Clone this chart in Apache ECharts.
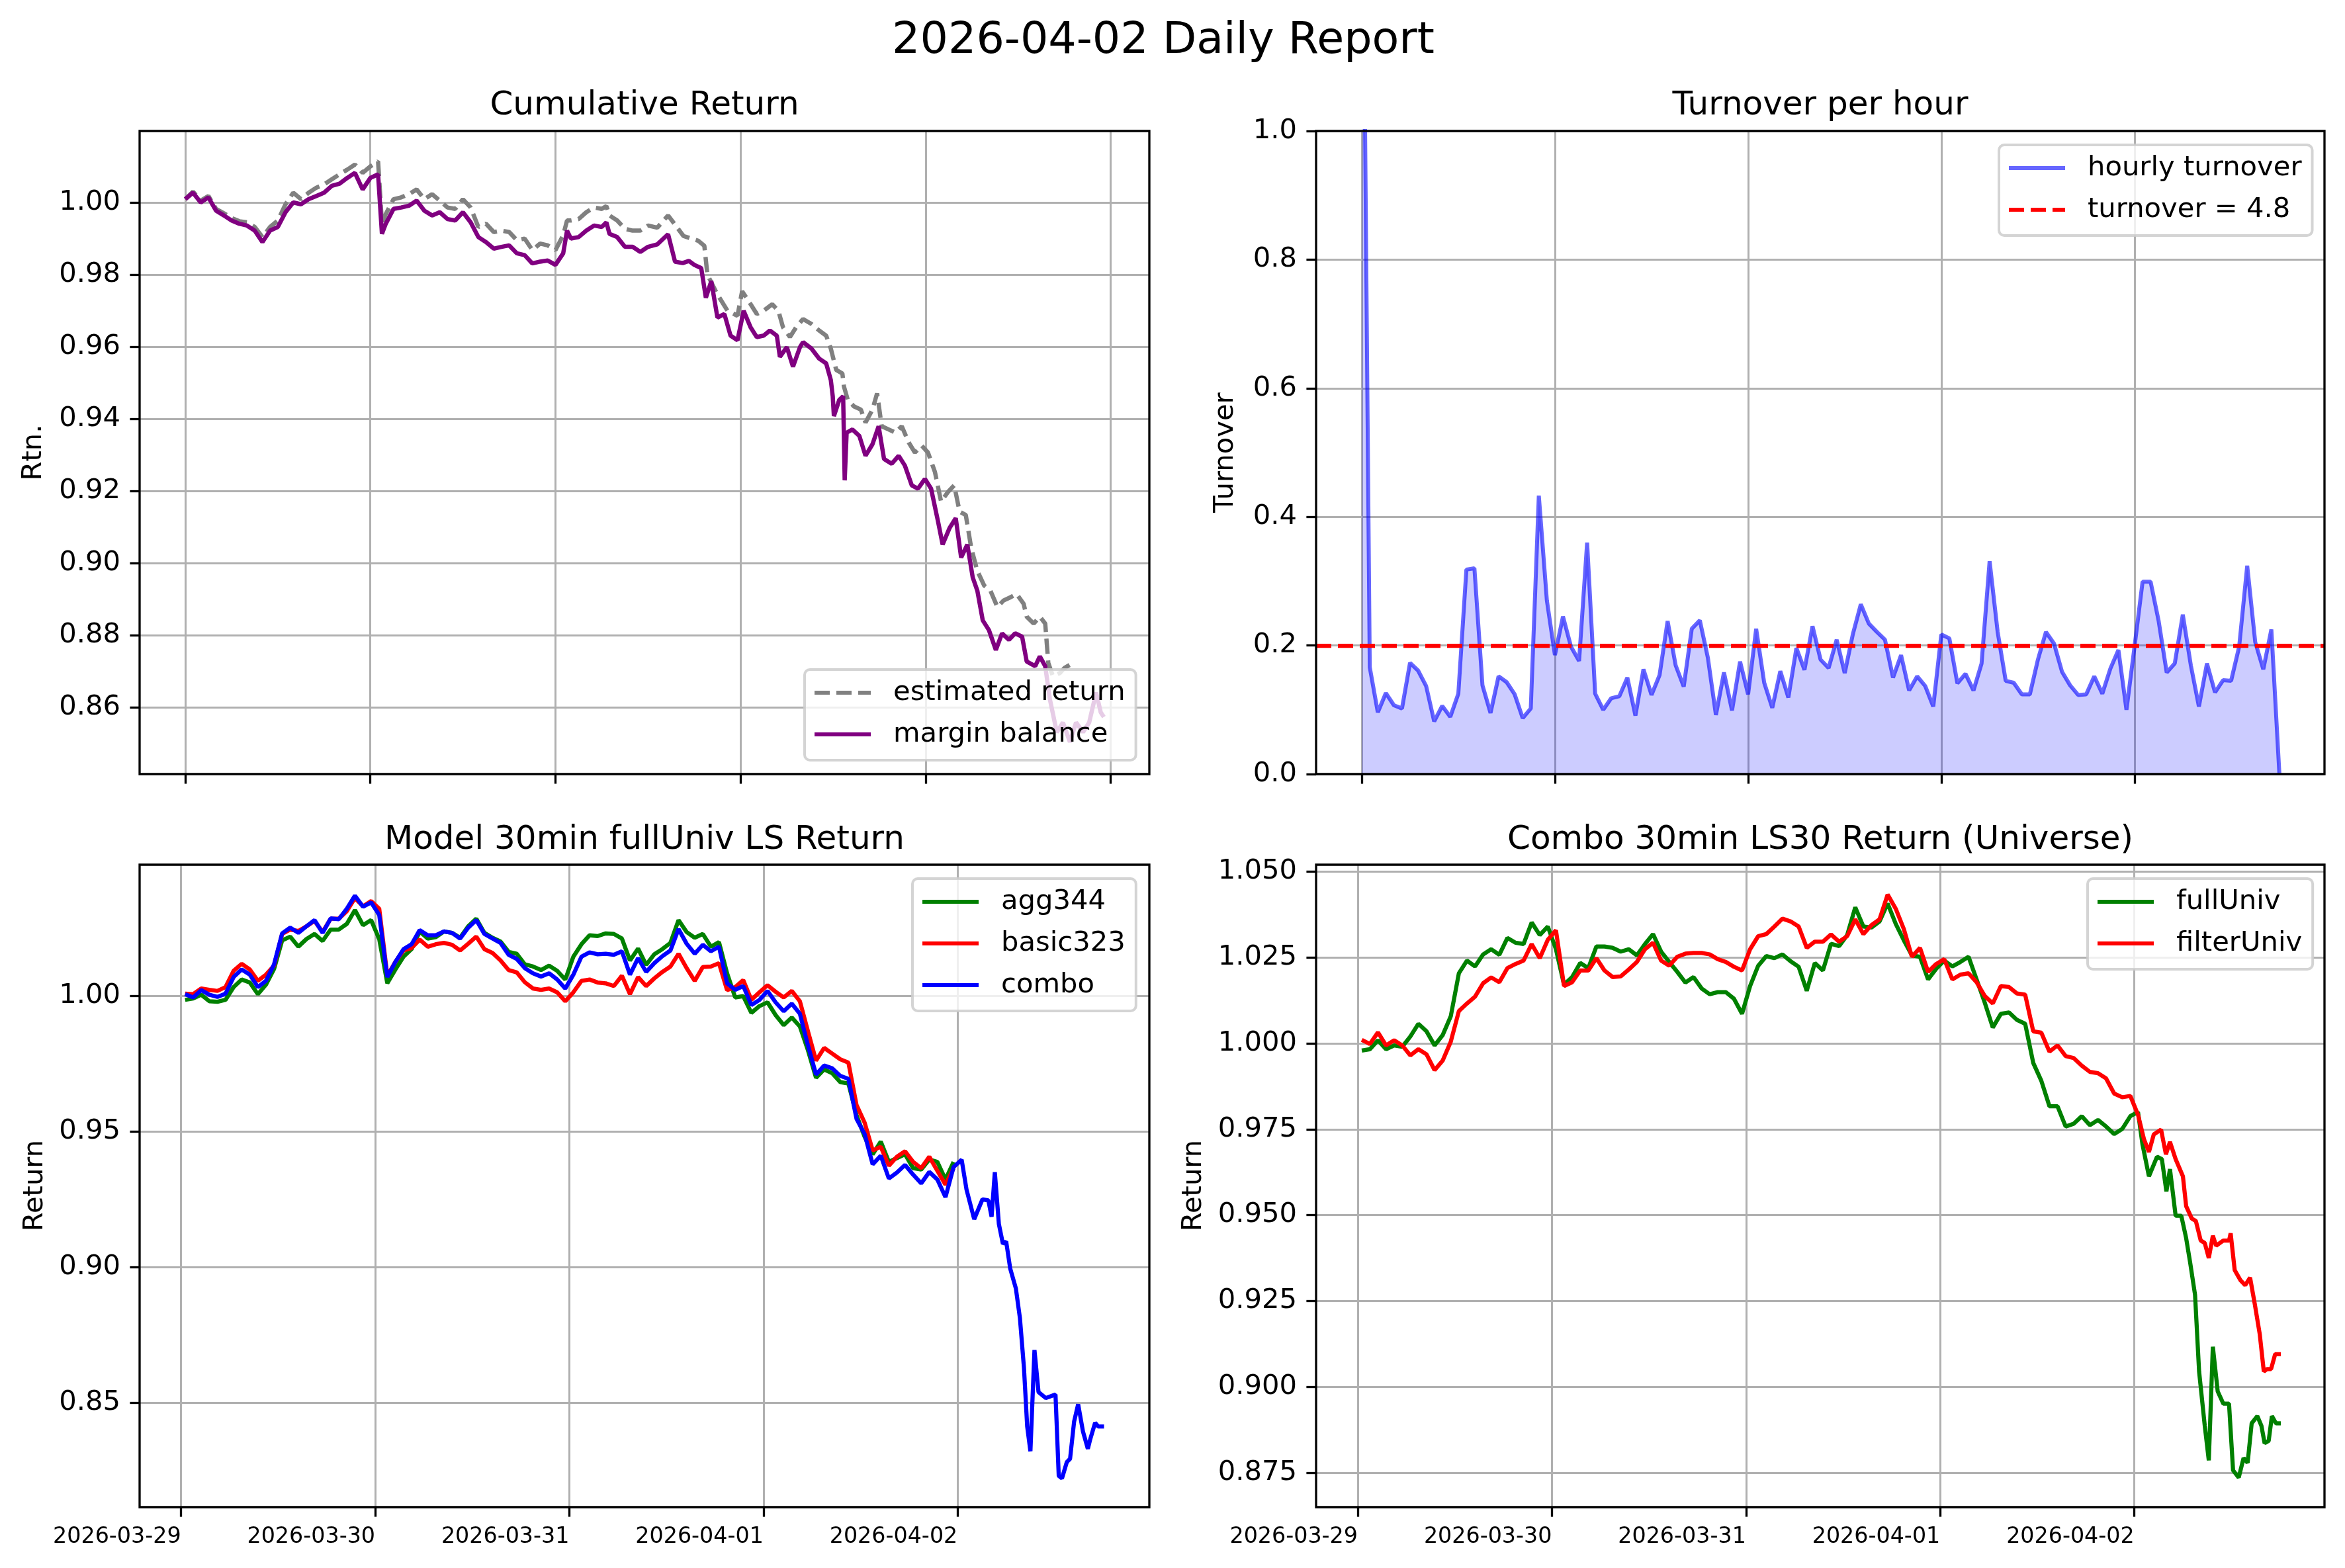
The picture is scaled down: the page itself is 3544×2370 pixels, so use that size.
<!DOCTYPE html>
<html>
<head>
<meta charset="utf-8">
<script src="https://cdn.jsdelivr.net/npm/echarts@6.0.0/dist/echarts.min.js"></script>
<style>
html, body { margin: 0; padding: 0; background: #fff; }
#chart { width: 3544px; height: 2370px; }
</style>
</head>
<body>
<div id="chart"></div>
<script>
// x values everywhere are hours since 2026-03-29 00:00
const DAY_LABELS = ['2026-03-29', '2026-03-30', '2026-03-31', '2026-04-01', '2026-04-02', '2026-04-03'];

// Cumulative Return  [hour, value]
const estimatedReturn = [
    [0,1.0009],[1,1.0030],[2,1.0005],[3,1.0018],[4,0.9982],[5,0.9970],[6,0.9957],[7,0.9948],[8,0.9945],[9,0.9932],
    [10,0.9904],[11,0.9932],[12,0.9950],[13,0.9995],[14,1.0027],[15,1.0009],[16,1.0027],[17,1.0041],[18,1.0050],[19,1.0064],
    [20,1.0078],[21,1.0091],[22,1.0105],[23,1.0082],[24,1.0100],[25,1.0114],[25.5,0.9940],[26,0.9968],[27,1.0009],[28,1.0014],
    [29,1.0023],[30,1.0036],[31,1.0009],[32,1.0023],[33,1.0005],[34,0.9986],[35,0.9982],[36,1.0009],[37,0.9986],[38,0.9932],
    [39,0.9941],[40,0.9918],[41,0.9922],[42,0.9918],[43,0.9895],[44,0.9900],[45,0.9868],[46,0.9886],[47,0.9881],[48,0.9868],
    [49,0.9909],[49.5,0.9950],[50,0.9950],[51,0.9954],[52,0.9973],[53,0.9986],[54,0.9982],[54.6,0.9990],[55,0.9964],[56,0.9950],
    [57,0.9927],[58,0.9922],[59,0.9922],[60,0.9936],[61.2,0.9930],[62.6,0.9964],[64.6,0.9907],[66.5,0.9894],[67.3,0.9880],[67.7,0.9800],
    [69.0,0.9745],[70.3,0.9700],[71.6,0.9686],[72.2,0.9754],[73.3,0.9718],[74.1,0.9691],[75.0,0.9700],[76.1,0.9718],[76.9,0.9700],[77.5,0.9654],
    [78.4,0.9627],[79.2,0.9654],[80.1,0.9677],[81.2,0.9663],[82.2,0.9645],[83.1,0.9631],[83.7,0.9595],[84.4,0.9536],[85.2,0.9526],[85.4,0.9490],
    [85.9,0.9453],[86.7,0.9435],[87.6,0.9426],[88.2,0.9390],[89.1,0.9426],[89.7,0.9471],[90.3,0.9380],[91.2,0.9371],[92.1,0.9362],[92.9,0.9380],
    [93.8,0.9335],[94.6,0.9307],[95.5,0.9326],[96.3,0.9307],[97.2,0.9253],[98.0,0.9171],[98.9,0.9198],[99.7,0.9216],[100.4,0.9143],[101.2,0.9134],
    [101.9,0.9043],[102.7,0.8979],[103.6,0.8938],[104.4,0.8924],[105.3,0.8879],[106.1,0.8897],[107.0,0.8906],[107.8,0.8915],[108.7,0.8888],[109.1,0.8852],
    [110.0,0.8833],[110.8,0.8852],[111.5,0.8833],[111.9,0.8724],[112.5,0.8687],[113.4,0.8696],[114.0,0.8710],[114.8,0.8720]
];
const marginBalance = [
    [0,1.0009],[1,1.0027],[2,1.0000],[3,1.0014],[4,0.9977],[5,0.9964],[6,0.9950],[7,0.9941],[8,0.9936],[9,0.9922],
    [10,0.9890],[11,0.9922],[12,0.9932],[13,0.9973],[14,1.0000],[15,0.9995],[16,1.0009],[17,1.0018],[18,1.0027],[19,1.0046],
    [20,1.0052],[21,1.0068],[22,1.0082],[23,1.0036],[24,1.0068],[25,1.0078],[25.5,0.9913],[26,0.9941],[27,0.9982],[28,0.9986],
    [29,0.9991],[30,1.0005],[31,0.9977],[32,0.9964],[33,0.9973],[34,0.9954],[35,0.9950],[36,0.9973],[37,0.9945],[38,0.9904],
    [39,0.9890],[40,0.9872],[41,0.9877],[42,0.9881],[43,0.9859],[44,0.9854],[45,0.9831],[46,0.9836],[47,0.9839],[48,0.9827],
    [49,0.9859],[49.5,0.9922],[50,0.9900],[51,0.9904],[52,0.9922],[53,0.9936],[54,0.9932],[54.6,0.9945],[55,0.9913],[56,0.9904],
    [57,0.9877],[58,0.9877],[59,0.9863],[60,0.9877],[61.2,0.9884],[62.6,0.9912],[63.5,0.9836],[64.5,0.9832],[65.3,0.9838],[66.0,0.9827],
    [66.9,0.9818],[67.5,0.9736],[68.2,0.9782],[69.0,0.9681],[69.9,0.9691],[70.7,0.9631],[71.6,0.9618],[72.4,0.9700],[73.3,0.9654],[74.1,0.9627],
    [75.0,0.9631],[75.8,0.9645],[76.7,0.9631],[77.1,0.9572],[78.0,0.9599],[78.8,0.9545],[79.7,0.9599],[80.1,0.9613],[81.2,0.9595],[82.2,0.9567],
    [83.1,0.9554],[83.7,0.9508],[83.95,0.9463],[84.1,0.9408],[84.8,0.9453],[85.3,0.9463],[85.5,0.9230],[85.75,0.9362],[86.5,0.9371],[87.4,0.9353],
    [88.2,0.9298],[89.1,0.9330],[89.9,0.9380],[90.6,0.9289],[91.6,0.9276],[92.5,0.9298],[93.3,0.9271],[94.2,0.9216],[95.0,0.9207],[95.9,0.9234],
    [96.7,0.9207],[97.6,0.9116],[98.2,0.9052],[99.1,0.9098],[99.9,0.9125],[100.6,0.9016],[101.4,0.9052],[102.1,0.8961],[102.7,0.8924],[103.4,0.8842],
    [104.2,0.8815],[105.1,0.8760],[105.9,0.8806],[106.8,0.8788],[107.6,0.8806],[108.5,0.8797],[109.1,0.8728],[110.2,0.8715],[110.8,0.8742],[111.5,0.8715],
    [112.1,0.8624],[113.0,0.8532],[113.8,0.8559],[114.7,0.8505],[115.5,0.8559],[116.4,0.8532],[117.2,0.8559],[118.1,0.8642],[118.7,0.8587],[119.1,0.8574]
];

// Turnover per hour, one value per hour from hour 0
const hourlyTurnover = [
    1.6, 0.166, 0.096, 0.126, 0.107, 0.102, 0.173, 0.161, 0.137, 0.082, 0.106,
    0.089, 0.125, 0.318, 0.320, 0.138, 0.095, 0.152, 0.143, 0.124, 0.087,
    0.102, 0.433, 0.270, 0.185, 0.245, 0.198, 0.176, 0.360, 0.125, 0.100,
    0.118, 0.121, 0.150, 0.091, 0.163, 0.123, 0.154, 0.238, 0.169, 0.136,
    0.226, 0.239, 0.181, 0.092, 0.158, 0.099, 0.175, 0.124, 0.226, 0.142,
    0.103, 0.160, 0.119, 0.196, 0.162, 0.230, 0.178, 0.165, 0.209, 0.157,
    0.217, 0.264, 0.234, 0.221, 0.209, 0.150, 0.185, 0.130, 0.152, 0.137,
    0.105, 0.217, 0.211, 0.141, 0.156, 0.130, 0.172, 0.331, 0.221, 0.145,
    0.142, 0.124, 0.124, 0.178, 0.221, 0.203, 0.159, 0.138, 0.123, 0.124,
    0.152, 0.125, 0.164, 0.193, 0.100, 0.198, 0.299, 0.299, 0.238, 0.158,
    0.172, 0.248, 0.169, 0.105, 0.172, 0.127, 0.146, 0.145, 0.198, 0.324,
    0.205, 0.163, 0.225, 0.0
];
const turnoverTarget = 0.2;

// Model 30min fullUniv LS Return, hourly from hour 0.5
const agg344 = [
    0.9985,0.9990,1.0004,0.9980,0.9978,0.9985,1.0032,1.0060,1.0049,1.0006,
    1.0041,1.0099,1.0204,1.0218,1.0181,1.0209,1.0228,1.0202,1.0244,1.0244,
    1.0265,1.0316,1.0260,1.0279,1.0209,1.0046,1.0097,1.0144,1.0172,1.0237,
    1.0211,1.0216,1.0237,1.0232,1.0214,1.0256,1.0284,1.0232,1.0214,1.0200,
    1.0162,1.0155,1.0116,1.0108,1.0095,1.0111,1.0092,1.0060,
    1.0144,1.0190,1.0223,1.0220,1.0230,1.0228,1.0211,1.0130,1.0174,1.0114,
    1.0153,1.0172,1.0195,1.0279,1.0235,1.0214,1.0228,1.0181,1.0198,1.0083,
    0.9994,0.9999,0.9937,0.9962,0.9976,0.9929,0.9892,0.9920,0.9887,0.9799,
    0.9698,0.9729,0.9715,0.9682,0.9677,0.9561,0.9481,0.9416,0.9463,0.9388,
    0.9402,0.9416,0.9365,0.9360,0.9397,0.9388,0.9323,0.9388
];
const basic323 = [
    1.0008,1.0006,1.0027,1.0022,1.0018,1.0032,1.0092,1.0118,1.0097,1.0055,
    1.0078,1.0111,1.0228,1.0244,1.0239,1.0256,1.0276,1.0235,1.0284,1.0284,
    1.0312,1.0360,1.0330,1.0349,1.0321,1.0074,1.0125,1.0167,1.0176,1.0207,
    1.0181,1.0190,1.0195,1.0188,1.0167,1.0192,1.0218,1.0172,1.0158,1.0130,
    1.0095,1.0086,1.0050,1.0027,1.0022,1.0027,1.0013,0.9980,
    1.0013,1.0055,1.0060,1.0049,1.0046,1.0036,1.0074,1.0006,1.0069,1.0036,
    1.0064,1.0088,1.0108,1.0155,1.0102,1.0055,1.0106,1.0108,1.0120,1.0021,
    1.0032,1.0058,0.9985,1.0013,1.0039,1.0015,0.9994,1.0018,0.9980,0.9869,
    0.9761,0.9808,0.9787,0.9766,0.9754,0.9598,0.9533,0.9430,0.9444,0.9374,
    0.9407,0.9427,0.9388,0.9365,0.9407,0.9355,0.9304,0.9365
];
const comboHead = [
    1.0006,0.9994,1.0021,1.0004,0.9996,1.0008,1.0069,1.0097,1.0078,1.0032,
    1.0055,1.0116,1.0230,1.0251,1.0232,1.0256,1.0279,1.0232,1.0285,1.0282,
    1.0321,1.0369,1.0328,1.0344,1.0298,1.0069,1.0125,1.0172,1.0190,1.0242,
    1.0223,1.0223,1.0237,1.0232,1.0211,1.0251,1.0279,1.0228,1.0211,1.0195,
    1.0151,1.0136,1.0102,1.0083,1.0071,1.0083,1.0060,1.0027,
    1.0078,1.0144,1.0160,1.0153,1.0155,1.0151,1.0164,1.0078,1.0139,1.0088,
    1.0120,1.0146,1.0167,1.0246,1.0192,1.0155,1.0188,1.0164,1.0181,1.0046,
    1.0022,1.0036,0.9966,0.9985,1.0018,0.9976,0.9943,0.9971,0.9934,0.9817,
    0.9710,0.9743,0.9733,0.9705,0.9694,0.9547,0.9491,0.9379,0.9411,0.9327,
    0.9349,0.9377,0.9341,0.9309,0.9351,0.9323,0.9258,0.9369
];
const comboTail = [
    [96.5,0.9396],[97.1,0.9286],[98.05,0.9177],[99.07,0.9250],[99.8,0.9246],[100.2,0.9186],[100.6,0.9350],[101.1,0.9159],
    [101.6,0.9086],[102.0,0.9095],[102.5,0.8995],[103.2,0.8922],[103.7,0.8813],[104.2,0.8630],[104.6,0.8413],[105.0,0.8322],
    [105.5,0.8695],[106.0,0.8540],[106.9,0.8518],[108.1,0.8531],[108.5,0.8231],[108.9,0.8222],[109.5,0.8282],[109.9,0.8294],
    [110.4,0.8431],[110.9,0.8495],[111.5,0.8394],[112.1,0.8331],[112.4,0.8367],[113.0,0.8427],[113.4,0.8413],[114.1,0.8413]
];

// Combo 30min LS30 Return (Universe), hourly from hour 0.5
const fullUnivHead = [
    0.9979,0.9983,1.0009,0.9983,0.9994,0.9990,1.0020,1.0057,1.0035,0.9994,
    1.0024,1.0079,1.0204,1.0241,1.0224,1.0259,1.0274,1.0258,1.0307,1.0293,
    1.0289,1.0352,1.0315,1.0340,1.0274,1.0171,1.0193,1.0234,1.0219,1.0282,
    1.0282,1.0278,1.0267,1.0274,1.0256,1.0289,1.0318,1.0267,1.0237,1.0208,
    1.0177,1.0193,1.0160,1.0143,1.0149,1.0149,1.0130,1.0086,
    1.0167,1.0226,1.0254,1.0248,1.0259,1.0239,1.0223,1.0153,1.0234,1.0212,
    1.0290,1.0283,1.0315,1.0396,1.0340,1.0337,1.0355,1.0407,1.0348,1.0300,
    1.0256,1.0252,1.0186,1.0217,1.0241,1.0224,1.0237,1.0252,1.0186,1.0119,
    1.0046,1.0086,1.0090,1.0068,1.0057,0.9943,0.9891,0.9817,0.9817,0.9758,
    0.9766,0.9788,0.9762,0.9777,0.9758,0.9736,0.9751,0.9788
];
const fullUnivTail = [
    [96.45,0.9800],[97.0,0.9706],[97.8,0.9613],[98.8,0.9670],[99.4,0.9663],[99.96,0.9569],[100.4,0.9634],[101.1,0.9498],
    [101.8,0.9498],[102.4,0.9433],[102.9,0.9361],[103.5,0.9268],[104.0,0.9045],[104.7,0.8887],[105.2,0.8786],[105.7,0.9117],
    [106.3,0.8987],[107.0,0.8951],[107.7,0.8951],[108.2,0.8757],[108.9,0.8736],[109.5,0.8793],[110.0,0.8779],[110.5,0.8894],
    [111.2,0.8915],[111.7,0.8887],[112.1,0.8836],[112.6,0.8843],[113.0,0.8915],[113.5,0.8894],[114.1,0.8894]
];
const filterUnivHead = [
    1.0010,0.9998,1.0032,0.9994,1.0009,0.9994,0.9965,0.9983,0.9968,0.9922,
    0.9950,1.0005,1.0094,1.0116,1.0136,1.0175,1.0192,1.0178,1.0219,1.0231,
    1.0241,1.0289,1.0248,1.0302,1.0329,1.0167,1.0178,1.0212,1.0212,1.0248,
    1.0212,1.0193,1.0195,1.0215,1.0237,1.0274,1.0293,1.0241,1.0226,1.0252,
    1.0261,1.0263,1.0263,1.0259,1.0245,1.0237,1.0223,1.0212,
    1.0274,1.0312,1.0318,1.0340,1.0363,1.0355,1.0340,1.0278,1.0296,1.0296,
    1.0317,1.0296,1.0312,1.0361,1.0318,1.0344,1.0361,1.0433,1.0392,1.0333,
    1.0252,1.0278,1.0208,1.0231,1.0245,1.0186,1.0200,1.0204,1.0178,1.0138,
    1.0116,1.0167,1.0164,1.0145,1.0142,1.0035,1.0031,0.9976,0.9994,0.9963,
    0.9957,0.9935,0.9917,0.9913,0.9898,0.9854,0.9843,0.9847
];
const filterUnivTail = [
    [96.45,0.9792],[97.2,0.9720],[97.8,0.9684],[98.4,0.9735],[99.3,0.9749],[99.9,0.9677],[100.4,0.9713],[101.1,0.9663],
    [102.0,0.9613],[102.4,0.9526],[103.1,0.9490],[103.6,0.9483],[104.2,0.9426],[104.7,0.9419],[105.2,0.9375],[105.7,0.9440],
    [106.1,0.9411],[107.0,0.9426],[107.7,0.9426],[107.9,0.9447],[108.4,0.9340],[109.1,0.9311],[109.7,0.9296],[110.3,0.9318],
    [110.9,0.9239],[111.5,0.9153],[112.0,0.9045],[112.4,0.9052],[112.9,0.9052],[113.4,0.9095],[114.1,0.9095]
];

// tick positions
const dayTicks5 = [0, 24, 48, 72, 96];
const dayTicks6 = [0, 24, 48, 72, 96, 120];
const rtnTicks = [0.86, 0.88, 0.90, 0.92, 0.94, 0.96, 0.98, 1.00];
const turnoverTicks = [0, 0.2, 0.4, 0.6, 0.8, 1.0];
const modelTicks = [0.85, 0.90, 0.95, 1.00];
const comboTicks = [0.875, 0.900, 0.925, 0.950, 0.975, 1.000, 1.025, 1.050];

const FONT = 'DejaVu Sans';
const GRID_COLOR = '#b0b0b0';

function hourly(values, start) {
    return values.map((v, i) => [start + i, v]);
}

function makeGrid(left, top, width, height) {
    return {
        left: left, top: top, width: width, height: height,
        show: true, borderColor: '#000', borderWidth: 3.3,
        backgroundColor: 'rgba(0,0,0,0)', z: 8,
        containLabel: false, outerBoundsMode: 'none'
    };
}

function makeXAxis(gridIndex, min, max, ticks, showLabels) {
    return {
        type: 'value', gridIndex: gridIndex, min: min, max: max,
        axisLine: { show: false, onZero: false },
        axisTick: { show: true, length: 14.6, lineStyle: { color: '#000', width: 3.3 }, customValues: ticks },
        axisLabel: {
            show: showLabels, customValues: ticks,
            formatter: v => DAY_LABELS[Math.round(v / 24)],
            align: 'right', margin: 29, fontSize: 33.3, fontFamily: FONT, color: '#000'
        },
        splitLine: { show: true, lineStyle: { color: GRID_COLOR, width: 3 } }
    };
}

function makeYAxis(gridIndex, min, max, ticks, digits) {
    return {
        type: 'value', gridIndex: gridIndex, min: min, max: max,
        axisLine: { show: false, onZero: false },
        axisTick: { show: true, length: 14.6, lineStyle: { color: '#000', width: 3.3 }, customValues: ticks },
        axisLabel: {
            customValues: ticks, formatter: v => v.toFixed(digits),
            margin: 29, fontSize: 41.7, fontFamily: FONT, color: '#000'
        },
        splitLine: { show: true, lineStyle: { color: GRID_COLOR, width: 3 } }
    };
}

// legend icon: line handle 85px long, then gap before the text
const SOLID_ICON = 'path://M0,0H85V6H0Z M114,0';
const DASH_ICON = 'path://M0,0H23V6H0Z M33,0H56V6H33Z M66,0H85V6H66Z M114,0';

function makeLegend(names, icons, left, top) {
    return {
        data: names.map((n, k) => ({ name: n, icon: icons[k] })),
        left: left, top: top, orient: 'vertical', selectedMode: false,
        itemWidth: 114, itemHeight: 6, itemGap: 13,
        padding: [10, 16, 14, 15],
        backgroundColor: 'rgba(255,255,255,0.8)',
        borderColor: 'rgba(204,204,204,0.85)', borderWidth: 4, borderRadius: 8,
        itemStyle: { borderWidth: 0 },
        textStyle: { fontSize: 41.7, fontFamily: FONT, color: '#000', lineHeight: 50 },
        z: 10
    };
}

function lineSeries(name, idx, data, color, width, dash) {
    return {
        type: 'line', name: name, xAxisIndex: idx, yAxisIndex: idx,
        data: data, symbol: 'none', showSymbol: false, color: color,
        lineStyle: { color: color, width: width, type: dash || 'solid' },
        z: 3
    };
}

function text(str, x, y, size, rotate) {
    return {
        type: 'text', x: x, y: y, rotation: rotate ? Math.PI / 2 : 0,
        style: {
            text: str, font: size + 'px "' + FONT + '"', fill: '#000',
            textAlign: 'center', textVerticalAlign: 'middle',
            align: 'center', verticalAlign: 'middle'
        }
    };
}

const turnoverSeries = lineSeries('hourly turnover', 1, hourly(hourlyTurnover, 0), 'rgba(0,0,255,0.6)', 6);
turnoverSeries.areaStyle = { color: 'rgba(0,0,255,0.2)', opacity: 1 };

const targetSeries = lineSeries('turnover = 4.8', 1, [], '#ff0000', 6.25, [23, 10]);
targetSeries.markLine = {
    silent: true, symbol: ['none', 'none'], label: { show: false },
    lineStyle: { color: '#ff0000', width: 6.25, type: [23, 10] },
    data: [{ yAxis: turnoverTarget }]
};

const option = {
    animation: false,
    backgroundColor: '#fff',
    grid: [
        makeGrid(211, 198, 1526, 972),
        makeGrid(1989, 198, 1524, 972),
        makeGrid(211, 1307, 1526, 971),
        makeGrid(1989, 1307, 1524, 971)
    ],
    xAxis: [
        makeXAxis(0, -5.92, 125.0, dayTicks6, false),
        makeXAxis(1, -5.67, 119.6, dayTicks5, false),
        makeXAxis(2, -5.12, 119.7, dayTicks5, true),
        makeXAxis(3, -5.15, 119.5, dayTicks5, true)
    ],
    yAxis: [
        makeYAxis(0, 0.8416, 1.0198, rtnTicks, 2),
        makeYAxis(1, 0, 1, turnoverTicks, 1),
        makeYAxis(2, 0.8116, 1.0483, modelTicks, 2),
        makeYAxis(3, 0.865, 1.052, comboTicks, 3)
    ],
    legend: [
        makeLegend(['estimated return', 'margin balance'], [DASH_ICON, SOLID_ICON], 1216, 1012),
        makeLegend(['hourly turnover', 'turnover = 4.8'], [SOLID_ICON, DASH_ICON], 3021, 219),
        makeLegend(['agg344', 'basic323', 'combo'], [SOLID_ICON, SOLID_ICON, SOLID_ICON], 1379, 1328),
        makeLegend(['fullUniv', 'filterUniv'], [SOLID_ICON, SOLID_ICON], 3155, 1328)
    ],
    graphic: [
        text('2026-04-02 Daily Report', 1758, 63, 66.7),
        text('Cumulative Return', 974, 160, 50),
        text('Turnover per hour', 2751, 160, 50),
        text('Model 30min fullUniv LS Return', 974, 1270, 50),
        text('Combo 30min LS30 Return (Universe)', 2751, 1270, 50),
        text('Rtn.', 51, 684, 41.7, true),
        text('Turnover', 1852, 684, 41.7, true),
        text('Return', 53, 1792, 41.7, true),
        text('Return', 1804, 1792, 41.7, true)
    ],
    series: [
        lineSeries('estimated return', 0, estimatedReturn, '#808080', 6.5, [23, 10]),
        lineSeries('margin balance', 0, marginBalance, '#800080', 6.5),
        turnoverSeries,
        targetSeries,
        lineSeries('agg344', 2, hourly(agg344, 0.5), '#008000', 6.25),
        lineSeries('basic323', 2, hourly(basic323, 0.5), '#ff0000', 6.25),
        lineSeries('combo', 2, hourly(comboHead, 0.5).concat(comboTail), '#0000ff', 6.25),
        lineSeries('fullUniv', 3, hourly(fullUnivHead, 0.5).concat(fullUnivTail), '#008000', 6.25),
        lineSeries('filterUniv', 3, hourly(filterUnivHead, 0.5).concat(filterUnivTail), '#ff0000', 6.25)
    ]
};

const chart = echarts.init(document.getElementById('chart'), null, { renderer: 'canvas', width: 3544, height: 2370 });
chart.setOption(option);
</script>
</body>
</html>
